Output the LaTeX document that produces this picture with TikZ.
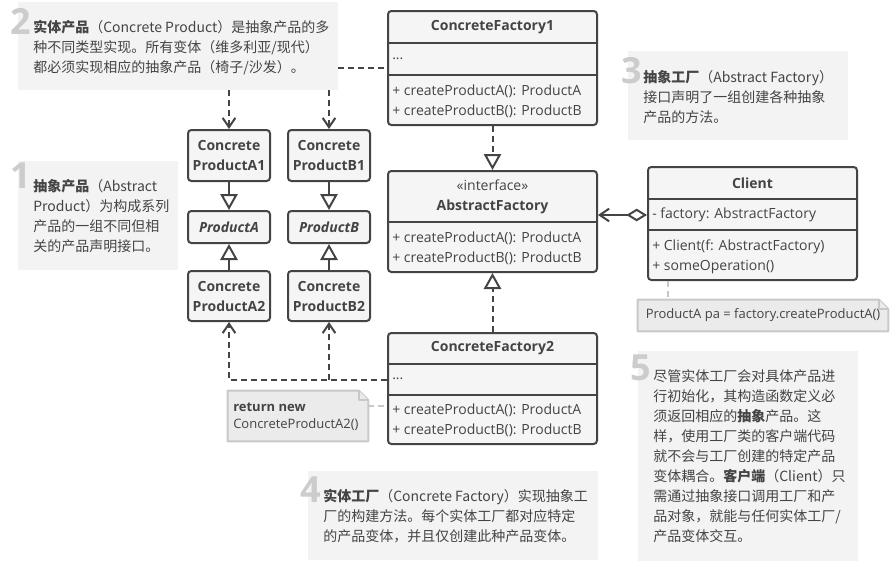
\documentclass[tikz,border=0pt]{standalone}
\usepackage{fontspec}
\setmainfont{Open Sans}
\newfontfamily\cjk{Noto Sans CJK SC}
\usetikzlibrary{arrows.meta,fit}

\definecolor{linegray}{RGB}{68,68,68}
\definecolor{textgray}{RGB}{68,68,68}
\definecolor{boxfill}{RGB}{245,245,245}
\definecolor{notefill}{RGB}{243,243,243}
\definecolor{calloutfill}{RGB}{235,235,235}
\definecolor{calloutline}{RGB}{200,200,200}
\definecolor{numgray}{RGB}{204,204,204}

\begin{document}
\begin{tikzpicture}[x=0.75pt,y=-0.75pt]
   \tikzstyle{every node}=[font=\fontsize{10.5}{15}\selectfont, text=textgray]
   \tikzstyle{classbox}=[draw=linegray, line width=1.5pt, fill=boxfill, rounded corners=2.5pt, inner sep=0pt]
   \tikzstyle{prodbox}=[classbox, minimum width=61.5pt, align=center, font=\fontsize{10.5}{15}\selectfont\bfseries]
   \tikzstyle{divider}=[draw=linegray, line width=1.5pt]
   \tikzstyle{classtitle}=[inner sep=0pt, align=center, font=\fontsize{10.5}{15}\selectfont\bfseries]
   \tikzstyle{member}=[anchor=west, align=left, inner sep=0pt]
   \tikzstyle{real}=[draw=linegray, line width=1.5pt]
   \tikzstyle{dep}=[draw=linegray, line width=1.5pt, dash pattern=on 4.5pt off 3pt]
   \tikzstyle{notelink}=[draw=calloutline, line width=1.5pt, dash pattern=on 4.5pt off 3pt]
   \tikzstyle{inherit}=[-{Triangle[open, length=12pt, width=13pt, fill=white]}]
   \tikzstyle{uses}=[-{Straight Barb[length=7pt, width=9.5pt]}]
   \tikzstyle{notebg}=[fill=notefill, inner sep=0pt]
   \tikzstyle{notetext}=[anchor=north west, align=left, inner sep=0pt, font=\cjk\fontsize{10.5}{15}\selectfont]
   \tikzstyle{bignum}=[anchor=north west, inner sep=0pt, text=numgray, font=\fontsize{27}{27}\selectfont\bfseries]
   \tikzstyle{callout}=[draw=calloutline, line width=1.5pt, fill=calloutfill, line join=round]
   \tikzstyle{callouttext}=[inner sep=0pt, align=left, font=\fontsize{9.75}{12.75}\selectfont]

\useasboundingbox (0,0) rectangle (892,578);

% notes
\node[notebg, fit={(18,2) (338,90)}] (n2) {};
\node[bignum] (n2num) at (10,8) {2};
\node[notetext] (n2text) at (33,20) {\textbf{实体产品}（Concrete Product）是抽象产品的多\\种不同类型实现。所有变体（维多利亚/现代）\\都必须实现相应的抽象产品（椅子/沙发）。};

\node[notebg, fit={(628,51) (848,140)}] (n3) {};
\node[bignum] (n3num) at (621,57) {3};
\node[notetext] (n3text) at (643,70) {\textbf{抽象工厂}（Abstract Factory）\\接口声明了一组创建各种抽象\\产品的方法。};

\node[notebg, fit={(18,161) (178,270)}] (n1) {};
\node[bignum] (n1num) at (10,163) {1};
\node[notetext] (n1text) at (33,179) {\textbf{抽象产品}（Abstract\\Product）为构成系列\\产品的一组不同但相\\关的产品声明接口。};

\node[notebg, fit={(308,471) (598,560)}] (n4) {};
\node[bignum] (n4num) at (300,477) {4};
\node[notetext] (n4text) at (323,489) {\textbf{实体工厂}（Concrete Factory）实现抽象工\\厂的构建方法。每个实体工厂都对应特定\\的产品变体，并且仅创建此种产品变体。};

\node[notebg, fit={(638,351) (858,561)}] (n5) {};
\node[bignum] (n5num) at (630,355) {5};
\node[notetext] (n5text) at (653,369) {尽管实体工厂会对具体产品进\\行初始化，其构造函数定义必\\须返回相应的\textbf{抽象}产品。这\\样，使用工厂类的客户端代码\\就不会与工厂创建的特定产品\\变体耦合。\textbf{客户端}（Client）只\\需通过抽象接口调用工厂和产\\品对象，就能与任何实体工厂/\\产品变体交互。};

% factories
\node[classbox, fit={(388,11) (597,125)}] (cf1) {};
\draw[divider] (cf1.west |- 0,43) -- (cf1.east |- 0,43);
\draw[divider] (cf1.west |- 0,75) -- (cf1.east |- 0,75);
\node[classtitle] (cf1name) at (492.5,27) {ConcreteFactory1};
\node[member] (cf1dots) at (392,59) {...};
\node[member] (cf1ops) at (392,101) {+ createProductA(): ProductA\\+ createProductB(): ProductB};

\node[classbox, fit={(388,171) (597,272)}] (af) {};
\draw[divider] (af.west |- 0,222) -- (af.east |- 0,222);
\node[classtitle] (afname) at (492.5,197) {\mdseries«interface»\\AbstractFactory};
\node[member] (afops) at (392,248) {+ createProductA(): ProductA\\+ createProductB(): ProductB};

\node[classbox, fit={(388,333) (597,444)}] (cf2) {};
\draw[divider] (cf2.west |- 0,364) -- (cf2.east |- 0,364);
\draw[divider] (cf2.west |- 0,395) -- (cf2.east |- 0,395);
\node[classtitle] (cf2name) at (492.5,348) {ConcreteFactory2};
\node[member] (cf2dots) at (392,379) {...};
\node[member] (cf2ops) at (392,420) {+ createProductA(): ProductA\\+ createProductB(): ProductB};

\node[classbox, fit={(648,167) (857,280)}] (client) {};
\draw[divider] (client.west |- 0,199) -- (client.east |- 0,199);
\draw[divider] (client.west |- 0,230) -- (client.east |- 0,230);
\node[classtitle] (clientname) at (752.5,183) {Client};
\node[member] (clientattr) at (652,215) {- factory: AbstractFactory};
\node[member] (clientops) at (652,257) {+ Client(f: AbstractFactory)\\+ someOperation()};

% products
\node[prodbox, minimum height=38.25pt] (cpa1) at (229,155.5) {Concrete\\ProductA1};
\node[prodbox, minimum height=24pt, font=\fontsize{10.5}{15}\selectfont\bfseries\itshape] (pa) at (229,227) {ProductA};
\node[prodbox, minimum height=37.5pt] (cpa2) at (229,296) {Concrete\\ProductA2};
\node[prodbox, minimum height=38.25pt] (cpb1) at (329,155.5) {Concrete\\ProductB1};
\node[prodbox, minimum height=24pt, font=\fontsize{10.5}{15}\selectfont\bfseries\itshape] (pb) at (329,227) {ProductB};
\node[prodbox, minimum height=37.5pt] (cpb2) at (329,296) {Concrete\\ProductB2};

% callouts
\node[fit={(638,300) (888,331)}, inner sep=0pt] (pan) {};
\draw[callout] (pan.north west) -- ([xshift=-7pt]pan.north east) -- ([yshift=-7pt]pan.north east) -- (pan.south east) -- (pan.south west) -- cycle;
\draw[callout] ([xshift=-7pt]pan.north east) |- ([yshift=-7pt]pan.north east);
\node[callouttext] (pantext) at (pan.center) {ProductA pa = factory.createProductA()};

\node[fit={(228,391) (368,441)}, inner sep=0pt] (retn) {};
\draw[callout] (retn.north west) -- ([xshift=-7pt]retn.north east) -- ([yshift=-7pt]retn.north east) -- (retn.south east) -- (retn.south west) -- cycle;
\draw[callout] ([xshift=-7pt]retn.north east) |- ([yshift=-7pt]retn.north east);
\node[callouttext, anchor=west] (retntext) at (233,417) {\textbf{return new}\\ConcreteProductA2()};

% connectors
\draw[real, inherit] (cpa1) -- (pa);
\draw[real, inherit] (cpa2) -- (pa);
\draw[real, inherit] (cpb1) -- (pb);
\draw[real, inherit] (cpb2) -- (pb);
\draw[dep, inherit] (cf1) -- (af);
\draw[dep, inherit] (cf2) -- (af);
\draw[real, {Diamond[open, length=15.5pt, width=9.5pt, fill=white]}-{Straight Barb[length=7pt, width=9.5pt]}] (client.west |- 0,215) -- (af.east |- 0,215);
\draw[dep] (n2.east |- 0,68) -- (cf1.west |- 0,68);
\draw[dep, uses] (n2.south -| cpa1) -- (cpa1.north);
\draw[dep, uses] (n2.south -| cpb1) -- (cpb1.north);
\draw[dep, uses] (cf2.west |- 0,380) -| (cpa2.south);
\draw[dep, uses] (cpb2.south |- 0,380) -- (cpb2.south);
\draw[notelink] (client.south -| 668,0) -- (pan.north -| 668,0);
\draw[notelink] (retn.east |- 0,406) -- (cf2.west |- 0,406);

\end{tikzpicture}
\end{document}
